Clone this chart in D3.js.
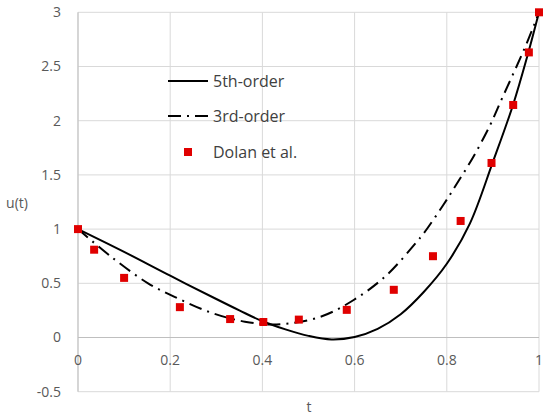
<!DOCTYPE html>
<html>
<head>
<meta charset="utf-8">
<script src="https://cdn.jsdelivr.net/npm/d3@7"></script>
<style>
  body { margin: 0; background: #fff; }
  text { font-family: "Open Sans", "Noto Sans", sans-serif; }
</style>
</head>
<body>
<script>
// values
const dolanT = [0, 0.035, 0.1, 0.221, 0.33, 0.402, 0.479, 0.583, 0.685, 0.77, 0.83, 0.897, 0.944, 0.978, 1];
const dolanU = [1, 0.81, 0.55, 0.28, 0.17, 0.143, 0.165, 0.255, 0.44, 0.75, 1.075, 1.61, 2.145, 2.63, 3];

const fifthT = [0, 0.1, 0.2, 0.3, 0.35, 0.4, 0.45, 0.5, 0.55, 0.6, 0.65, 0.7, 0.75, 0.8, 0.85, 0.9, 0.944, 0.975, 1];
const fifthU = [1, 0.79, 0.57, 0.355, 0.25, 0.15, 0.075, 0.015, -0.018, 0.005, 0.08, 0.215, 0.42, 0.68, 1.05, 1.62, 2.15, 2.6, 3];

const thirdT = [0, 0.072, 0.152, 0.217, 0.289, 0.362, 0.431, 0.525, 0.598, 0.67, 0.735, 0.75, 0.792, 0.822, 0.858, 0.894, 0.915, 0.973, 1];
const thirdU = [1, 0.745, 0.5, 0.36, 0.229, 0.146, 0.12, 0.19, 0.346, 0.577, 0.884, 0.961, 1.22, 1.42, 1.67, 1.96, 2.16, 2.71, 3];

const xTicks = [0, 0.2, 0.4, 0.6, 0.8, 1];
const yTicks = [-0.5, 0, 0.5, 1, 1.5, 2, 2.5, 3];
const legendNames = ["5th-order", "3rd-order", "Dolan et al."];

const W = 550, H = 419;
const plot = { left: 78, right: 539, top: 12.3, bottom: 391.7 };

const svg = d3.select("body").append("svg")
    .attr("width", W)
    .attr("height", H);

const x = d3.scaleLinear().domain([0, 1]).range([plot.left, plot.right]);
const y = d3.scaleLinear().domain([-0.5, 3]).range([plot.bottom, plot.top]);

// grid
svg.append("g").selectAll("line.h").data(yTicks).enter().append("line")
    .attr("x1", plot.left).attr("x2", plot.right)
    .attr("y1", d => y(d)).attr("y2", d => y(d))
    .attr("stroke", "#d9d9d9").attr("stroke-width", 1);
svg.append("g").selectAll("line.v").data(xTicks).enter().append("line")
    .attr("x1", d => x(d)).attr("x2", d => x(d))
    .attr("y1", plot.top).attr("y2", plot.bottom)
    .attr("stroke", "#d9d9d9").attr("stroke-width", 1);

// axis lines
svg.append("line")
    .attr("x1", plot.left).attr("x2", plot.right)
    .attr("y1", y(0)).attr("y2", y(0))
    .attr("stroke", "#bfbfbf");
svg.append("line")
    .attr("x1", x(0)).attr("x2", x(0))
    .attr("y1", plot.top).attr("y2", plot.bottom)
    .attr("stroke", "#bfbfbf");

// tick labels
svg.append("g").selectAll("text").data(yTicks).enter().append("text")
    .attr("x", 61).attr("y", d => y(d)).attr("dy", "0.35em")
    .attr("text-anchor", "end")
    .attr("font-size", 14).attr("fill", "#595959")
    .text(d => d);
svg.append("g").selectAll("text").data(xTicks).enter().append("text")
    .attr("x", d => x(d)).attr("y", y(0) + 23)
    .attr("dy", "0.35em")
    .attr("text-anchor", "middle")
    .attr("font-size", 14).attr("fill", "#595959")
    .text(d => d);

// axis titles
svg.append("text")
    .attr("x", 17).attr("y", 203).attr("dy", "0.35em")
    .attr("text-anchor", "middle")
    .attr("font-size", 14).attr("fill", "#595959")
    .text("u(t)");
svg.append("text")
    .attr("x", 309).attr("y", 407).attr("dy", "0.35em")
    .attr("text-anchor", "middle")
    .attr("font-size", 14).attr("fill", "#595959")
    .text("t");

// curves
const line = d3.line()
    .x(d => x(d[0]))
    .y(d => y(d[1]))
    .curve(d3.curveCatmullRom.alpha(0.5));

const fifth = fifthT.map((t, i) => [t, fifthU[i]]);
const third = thirdT.map((t, i) => [t, thirdU[i]]);

svg.append("path").datum(fifth)
    .attr("d", line)
    .attr("fill", "none").attr("stroke", "#000").attr("stroke-width", 2);

svg.append("path").datum(third)
    .attr("d", line)
    .attr("fill", "none").attr("stroke", "#000").attr("stroke-width", 2)
    .attr("stroke-dasharray", "13,6,2,6");

// Dolan et al. points
const pts = dolanT.map((t, i) => ({ t: t, u: dolanU[i] }));
const sq = 8;
svg.append("g").selectAll("rect").data(pts).enter().append("rect")
    .attr("x", d => x(d.t) - sq / 2)
    .attr("y", d => y(d.u) - sq / 2)
    .attr("width", sq).attr("height", sq)
    .attr("fill", "#e00000");

// legend
const leg = svg.append("g");
const legY = [81, 116, 152];
leg.append("line")
    .attr("x1", 168).attr("x2", 208).attr("y1", legY[0]).attr("y2", legY[0])
    .attr("stroke", "#000").attr("stroke-width", 2);
leg.append("line")
    .attr("x1", 168).attr("x2", 208).attr("y1", legY[1]).attr("y2", legY[1])
    .attr("stroke", "#000").attr("stroke-width", 2)
    .attr("stroke-dasharray", "13,6,2,6");
leg.append("rect")
    .attr("x", 188 - sq / 2).attr("y", legY[2] - sq / 2)
    .attr("width", sq).attr("height", sq)
    .attr("fill", "#e00000");
leg.selectAll("text").data(legendNames).enter().append("text")
    .attr("x", 213).attr("y", (d, i) => legY[i]).attr("dy", "0.35em")
    .attr("font-size", 16).attr("fill", "#404040")
    .text(d => d);
</script>
</body>
</html>
